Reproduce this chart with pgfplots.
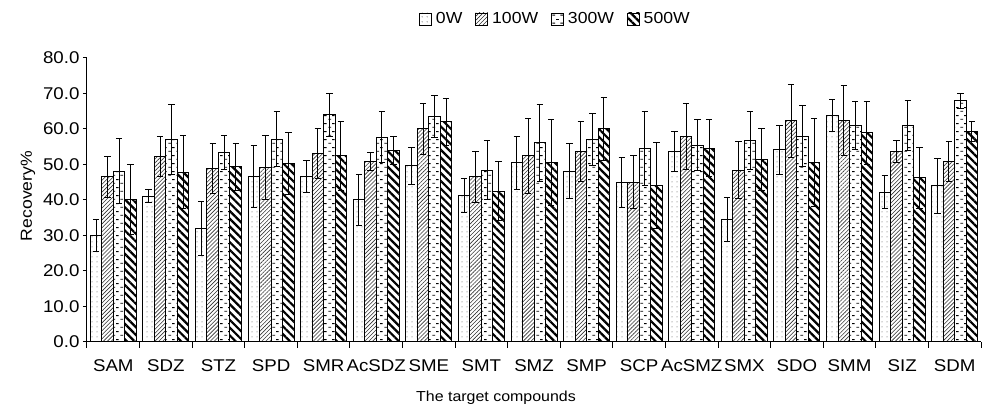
\documentclass[border=0pt]{standalone}
\usepackage{fontspec}
\setmainfont[FakeStretch=1.1]{Liberation Sans}
\usepackage{pgfplots}
\pgfplotsset{compat=1.18}
\usetikzlibrary{patterns.meta}

\tikzdeclarepattern{
  name=mydots, type=uncolored,
  bounding box={(0pt,0pt) and (5pt,5pt)},
  tile size={(5pt,5pt)},
  code={\fill (2.5pt,2.5pt) circle (0.6pt);}
}
\tikzdeclarepattern{
  name=hdash, type=uncolored,
  bounding box={(0pt,0pt) and (8pt,8pt)},
  tile size={(8pt,8pt)},
  code={\draw[line width=0.9pt] (0.5pt,2pt) -- (3.5pt,2pt);
        \draw[line width=0.9pt] (4.5pt,6pt) -- (7.5pt,6pt);}
}

\begin{document}
\begin{tikzpicture}
\useasboundingbox (-87pt,-67pt) rectangle (895pt,342pt);
\begin{axis}[
  scale only axis, width=894pt, height=284pt,
  ybar=0pt, bar width=11.5pt,
  xmin=-0.5, xmax=16.5, ymin=0, ymax=80,
  axis lines*=left,
  axis line style={line width=1pt, black},
  xtick={0,...,16},
  xticklabels={SAM,SDZ,STZ,SPD,SMR,AcSDZ,SME,SMT,SMZ,SMP,SCP,AcSMZ,SMX,SDO,SMM,SIZ,SDM},
  major x tick style={draw=none},
  minor xtick={-0.5,0.5,...,16.5},
  minor x tick style={black, line width=1pt},
  ytick={0,10,...,80},
  y tick style={black, line width=1pt},
  tick align=outside,
  major tick length=4pt, minor tick length=6pt,
  yticklabel style={/pgf/number format/.cd, fixed, fixed zerofill, precision=1, assume math mode=true},
  tick label style={font=\fontsize{17}{20}\selectfont, black},
  xticklabel style={yshift=-10pt},
  xlabel={The target compounds},
  xlabel style={font=\fontsize{14.5}{17}\selectfont, at={(axis description cs:0.4575,0)}, anchor=center, yshift=-56pt},
  ylabel={Recovery\%},
  ylabel style={font=\fontsize{16}{19}\selectfont, at={(axis description cs:-0.066,0.514)}, anchor=center},
  legend style={draw=none, at={(0.524,1)}, anchor=center, yshift=39pt,
    legend columns=4, font=\fontsize{16}{19}\selectfont,
    /tikz/every odd column/.append style={column sep=2pt},
    /tikz/every even column/.append style={column sep=11pt}},
  every axis plot/.append style={draw=black, line width=1pt},
  error bars/y dir=both,
  error bars/y explicit,
  error bars/error bar style={line width=1pt, black},
  error bars/error mark options={black, line width=1pt, mark size=3.2pt, rotate=90},
  myleg/.style={legend image code/.code={\draw[##1, line width=0.8pt] (0pt,-6pt) rectangle (12pt,6pt);}},
]
\addplot[pattern=mydots, pattern color=black!70, myleg] coordinates {
(0,30.0) +- (0,4.4) (1,41.1) +- (0,1.8) (2,32.0) +- (0,7.5) (3,46.6) +- (0,8.7)
(4,46.5) +- (0,4.5) (5,40.0) +- (0,7.2) (6,49.6) +- (0,5.3) (7,41.3) +- (0,4.8)
(8,50.5) +- (0,7.5) (9,48.1) +- (0,7.7) (10,45.0) +- (0,7.1) (11,53.6) +- (0,5.7)
(12,34.5) +- (0,6.3) (13,54.1) +- (0,6.9) (14,63.8) +- (0,4.6) (15,42.2) +- (0,4.6)
(16,44.0) +- (0,7.8)};
\addlegendentry{0W}
\addplot[pattern={Lines[angle=45,distance=2.8pt,line width=0.6pt]}, pattern color=black!80, myleg] coordinates {
(0,46.5) +- (0,5.8) (1,52.2) +- (0,5.6) (2,48.8) +- (0,7.0) (3,49.1) +- (0,9.0)
(4,53.1) +- (0,7.0) (5,50.8) +- (0,2.6) (6,60.0) +- (0,7.3) (7,46.5) +- (0,7.2)
(8,52.4) +- (0,10.5) (9,53.6) +- (0,8.4) (10,45.0) +- (0,7.4) (11,58.0) +- (0,9.3)
(12,48.4) +- (0,8.1) (13,62.3) +- (0,10.2) (14,62.3) +- (0,9.9) (15,53.6) +- (0,3.1)
(16,50.8) +- (0,5.7)};
\addlegendentry{100W}
\addplot[pattern=hdash, pattern color=black, myleg] coordinates {
(0,48.1) +- (0,9.1) (1,57.1) +- (0,9.9) (2,53.4) +- (0,4.9) (3,57.1) +- (0,7.7)
(4,64.0) +- (0,6.1) (5,57.7) +- (0,7.1) (6,63.5) +- (0,5.8) (7,48.4) +- (0,8.3)
(8,56.1) +- (0,10.8) (9,57.1) +- (0,7.4) (10,54.5) +- (0,10.3) (11,55.4) +- (0,7.2)
(12,56.8) +- (0,8.2) (13,57.9) +- (0,8.6) (14,61.0) +- (0,6.7) (15,61.0) +- (0,7.0)
(16,68.0) +- (0,2.1)};
\addlegendentry{300W}
\addplot[pattern={Lines[angle=-45,distance=5.5pt,line width=2.2pt]}, pattern color=black, myleg] coordinates {
(0,40.1) +- (0,9.8) (1,47.8) +- (0,10.3) (2,49.3) +- (0,6.5) (3,50.2) +- (0,8.7)
(4,52.4) +- (0,9.6) (5,53.9) +- (0,4.0) (6,62.0) +- (0,6.7) (7,42.5) +- (0,8.4)
(8,50.5) +- (0,12.1) (9,60.0) +- (0,9.0) (10,44.0) +- (0,12.1) (11,54.6) +- (0,8.0)
(12,51.3) +- (0,8.7) (13,50.5) +- (0,12.4) (14,58.9) +- (0,8.8) (15,46.2) +- (0,8.7)
(16,59.2) +- (0,2.8)};
\addlegendentry{500W}
\end{axis}
\end{tikzpicture}
\end{document}
